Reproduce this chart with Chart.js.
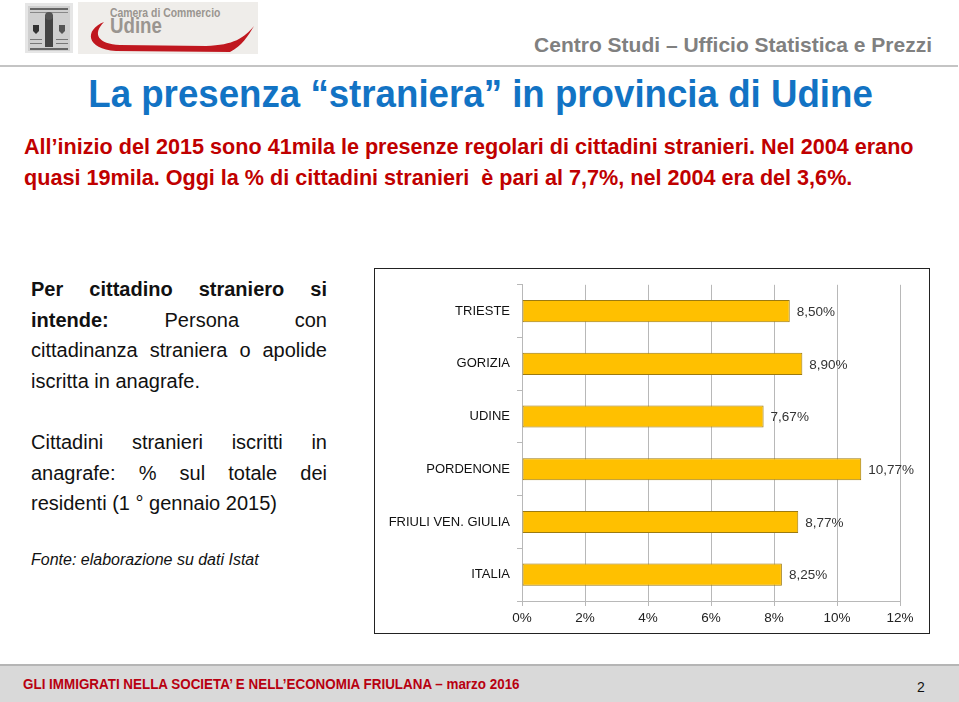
<!DOCTYPE html>
<html>
<head>
<meta charset="utf-8">
<script src="https://cdn.jsdelivr.net/npm/chart.js@4"></script>
<style>
  html, body { margin: 0; padding: 0; background: #fff; }
  body { width: 959px; height: 702px; position: relative; overflow: hidden; font-family: "Liberation Sans", Arial, sans-serif; }
  .abs { position: absolute; }
  #emblem { left: 25px; top: 3px; width: 48px; height: 50px; background: #e6e6e6; }
  #logo { left: 78px; top: 2px; width: 180px; height: 52px; background: #efedea; }
  #logo .l1 { position: absolute; left: 32px; top: 3px; font: bold 13px "Liberation Sans", sans-serif; color: #9a9590; transform: scaleX(0.8); transform-origin: left; white-space: nowrap; }
  #logo .l2 { position: absolute; left: 32px; top: 11px; font: bold 22px "Liberation Sans", sans-serif; color: #9a9590; transform: scaleX(0.85); transform-origin: left; }
  #centro { right: 27px; top: 33px; font-weight: bold; font-size: 21px; color: #808080; white-space: nowrap; }
  #hline { left: 0; top: 65px; width: 958px; height: 2px; background: #c4c4c4; }
  #title { left: 0; width: 961px; top: 73px; text-align: center; }
  #title span { display: inline-block; font: bold 38px "Liberation Sans", sans-serif; color: #1273c4; transform: scaleX(0.965); white-space: nowrap; }
  #intro { left: 24px; top: 131px; font: bold 22.5px/31px "Liberation Sans", sans-serif; color: #c00000; transform: scaleX(0.96); transform-origin: left; white-space: nowrap; }
  .para { left: 31px; width: 296px; font-size: 20px; line-height: 30.7px; color: #111; }
  .para div { white-space: nowrap; }
  .para .j { text-align: justify; text-align-last: justify; white-space: normal; }
  #p1 { top: 274px; }
  #p2 { top: 427px; }
  #fonte { left: 31px; top: 551px; font-size: 16px; font-style: italic; color: #111; }
  #box { left: 374px; top: 268px; width: 554px; height: 364px; border: 1.5px solid #222; }
  #chartWrap { left: 376px; top: 270px; width: 553px; height: 362px; }
  #footer { left: 0; top: 664px; width: 959px; height: 38px; background: #d9d9d9; border-top: 2px solid #b5b5b5; }
  #footer .ft { position: absolute; left: 23px; top: 10px; font: bold 14.5px "Liberation Sans", sans-serif; color: #b80010; transform: scaleX(0.925); transform-origin: left; white-space: nowrap; }
  #footer .pg { position: absolute; left: 917px; top: 13px; font-size: 14px; color: #111; }
</style>
</head>
<body>
<div id="emblem" class="abs">
  <svg width="48" height="50">
    <rect x="3" y="3" width="42" height="45" fill="#cfcfcf"/>
    <rect x="5" y="5" width="38" height="2" fill="#666"/>
    <rect x="5" y="9" width="38" height="1" fill="#888"/>
    <rect x="20" y="12" width="8" height="32" fill="#444"/>
    <circle cx="24" cy="13" r="4" fill="#555"/>
    <path d="M8 22 L14 22 L14 28 L11 31 L8 28 Z" fill="#333"/>
    <path d="M34 22 L40 22 L40 28 L37 31 L34 28 Z" fill="#555"/>
    <rect x="5" y="36" width="12" height="1" fill="#777"/>
    <rect x="31" y="36" width="12" height="1" fill="#777"/>
    <rect x="5" y="40" width="12" height="1" fill="#777"/>
    <rect x="31" y="40" width="12" height="1" fill="#777"/>
    <rect x="5" y="45" width="38" height="2" fill="#666"/>
  </svg>
</div>
<div id="logo" class="abs">
  <div class="l1">Camera di Commercio</div>
  <div class="l2">Udine</div>
  <svg class="abs" style="left:0;top:0" width="180" height="52">
    <path d="M26 20 C 6 28, 8 47, 38 49 L 152 50 C 164 44, 170 34, 176 24 C 166 36, 156 43, 128 44 L 42 43 C 20 42, 14 32, 26 20 Z" fill="#c0171f"/>
  </svg>
</div>
<div id="centro" class="abs">Centro Studi – Ufficio Statistica e Prezzi</div>
<div id="hline" class="abs"></div>
<div id="title" class="abs"><span>La presenza “straniera” in provincia di Udine</span></div>
<div id="intro" class="abs">All’inizio del 2015 sono 41mila le presenze regolari di cittadini stranieri. Nel 2004 erano<br>quasi 19mila. Oggi la % di cittadini stranieri&nbsp; è pari al 7,7%, nel 2004 era del 3,6%.</div>
<div id="p1" class="abs para">
  <div class="j"><b>Per cittadino straniero si</b></div>
  <div class="j"><b>intende:</b> Persona con</div>
  <div class="j">cittadinanza straniera o apolide</div>
  <div>iscritta in anagrafe.</div>
</div>
<div id="p2" class="abs para">
  <div class="j">Cittadini stranieri iscritti in</div>
  <div class="j">anagrafe: % sul totale dei</div>
  <div>residenti (1 ° gennaio 2015)</div>
</div>
<div id="fonte" class="abs">Fonte: elaborazione su dati Istat</div>
<div id="box" class="abs"></div>
<div id="chartWrap" class="abs"><canvas id="chart" width="553" height="362"></canvas></div>
<div id="footer" class="abs">
  <div class="ft">GLI IMMIGRATI NELLA SOCIETA’ E NELL’ECONOMIA FRIULANA – marzo 2016</div>
  <div class="pg">2</div>
</div>
<script>
const categories = ['TRIESTE', 'GORIZIA', 'UDINE', 'PORDENONE', 'FRIULI VEN. GIULIA', 'ITALIA'];
const shareForeign = [8.50, 8.90, 7.67, 10.77, 8.77, 8.25];
const xTicks = [0, 2, 4, 6, 8, 10, 12];

const fmtPct = (v) => v.toFixed(2).replace('.', ',') + '%';

// Value labels to the right of each bar.
const barLabels = {
  id: 'barLabels',
  afterDatasetsDraw(chart) {
    const ctx = chart.ctx;
    const meta = chart.getDatasetMeta(0);
    ctx.save();
    ctx.font = '13.5px "Liberation Sans", Arial, sans-serif';
    ctx.fillStyle = '#333';
    ctx.textBaseline = 'middle';
    meta.data.forEach((bar, i) => {
      ctx.fillText(fmtPct(shareForeign[i]), bar.x + 7, bar.y + 1);
    });
    ctx.restore();
  },
};

new Chart(document.getElementById('chart'), {
  type: 'bar',
  data: {
    labels: categories,
    datasets: [{
      data: shareForeign,
      backgroundColor: '#ffc000',
      borderColor: '#9c7a10',
      borderWidth: 1,
      borderSkipped: false,
      barPercentage: 0.42,
      categoryPercentage: 1,
    }],
  },
  options: {
    indexAxis: 'y',
    responsive: false,
    animation: false,
    layout: { padding: { top: 13, right: 29, left: 0, bottom: 0 } },
    plugins: { legend: { display: false }, tooltip: { enabled: false } },
    scales: {
      x: {
        min: 0,
        max: 12,
        afterBuildTicks: (scale) => { scale.ticks = xTicks.map((v) => ({ value: v })); },
        afterFit: (scale) => { scale.height = 31; },
        grid: { color: '#b8b8b8', tickLength: 5, lineWidth: 1 },
        border: { color: '#b8b8b8' },
        ticks: {
          callback: (v) => v + '%',
          color: '#222',
          padding: 4,
          font: { family: '"Liberation Sans", Arial, sans-serif', size: 13.5 },
        },
      },
      y: {
        afterFit: (scale) => { scale.width = 146; },
        grid: { display: true, drawOnChartArea: false, offset: true, color: '#b8b8b8', tickLength: 5 },
        border: { color: '#b8b8b8' },
        ticks: {
          color: '#111',
          padding: 7,
          font: { family: '"Liberation Sans", Arial, sans-serif', size: 13 },
        },
      },
    },
  },
  plugins: [barLabels],
});
</script>
</body>
</html>
